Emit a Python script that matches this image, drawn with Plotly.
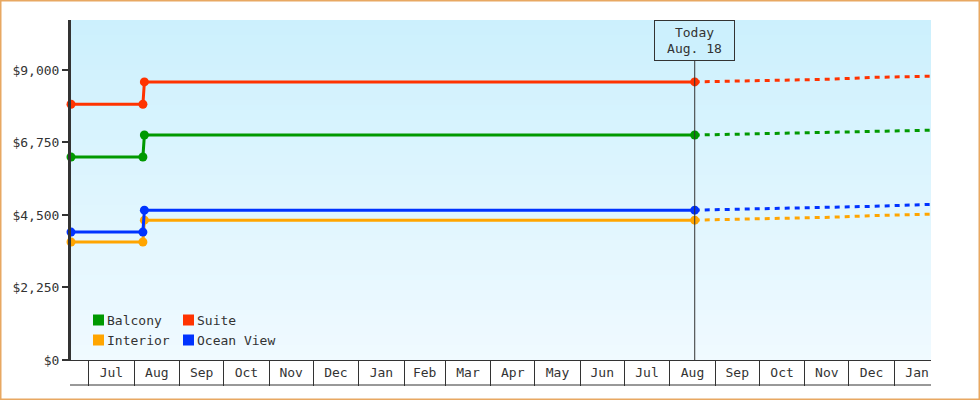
import plotly.graph_objects as go

# fare history (solid) and forecast (dotted)
hist_dates = ["2017-06-19", "2017-08-07", "2017-08-08", "2018-08-18"]
fc_dates = ["2018-08-18", "2018-09-18", "2018-10-18", "2018-11-18", "2018-12-18", "2019-01-26"]

cabins = ["Balcony", "Suite", "Interior", "Ocean View"]
colors = ["#009900", "#ff3300", "#ffa500", "#0033ff"]

balcony_hist = [6300, 6300, 6980, 6980]
suite_hist = [7935, 7935, 8630, 8630]
interior_hist = [3660, 3660, 4340, 4340]
ocean_hist = [3970, 3970, 4650, 4650]

balcony_fc = [6980, 7005, 7035, 7065, 7095, 7130]
suite_fc = [8630, 8658, 8680, 8711, 8770, 8805]
interior_fc = [4340, 4366, 4397, 4428, 4480, 4525]
ocean_fc = [4650, 4676, 4707, 4738, 4769, 4830]

y_ticks = [0, 2250, 4500, 6750, 9000]
y_labels = ["$0", "$2,250", "$4,500", "$6,750", "$9,000"]
today = "2018-08-18"
today_label = "Today<br>Aug. 18"

hist = dict(zip(cabins, [balcony_hist, suite_hist, interior_hist, ocean_hist]))
fc = dict(zip(cabins, [balcony_fc, suite_fc, interior_fc, ocean_fc]))
col = dict(zip(cabins, colors))

FONT = dict(family="DejaVu Sans Mono", size=13, color="#333333")
W, H = 980, 400
L, R, T, B = 71, 49, 20, 40
PW, PH = W - L - R, H - T - B

fig = go.Figure()
for name in ["Interior", "Ocean View", "Balcony", "Suite"]:
    fig.add_trace(go.Scatter(
        x=hist_dates, y=hist[name], mode="lines+markers", name=name,
        line=dict(color=col[name], width=3),
        marker=dict(color=col[name], size=9),
        cliponaxis=False, showlegend=False,
    ))
    fig.add_trace(go.Scatter(
        x=fc_dates, y=fc[name], mode="lines", name=name,
        line=dict(color=col[name], width=3, dash="5px,5px"),
        showlegend=False,
    ))

shapes = []
# vertical gradient background
n = 68
top, bot = (0xcc, 0xf0, 0xfd), (0xf0, 0xfa, 0xff)
for i in range(n):
    t = (i + 0.5) / n
    c = tuple(round(bot[k] + (top[k] - bot[k]) * t) for k in range(3))
    shapes.append(dict(type="rect", xref="paper", yref="paper", x0=0, x1=1,
                       y0=i / n, y1=(i + 1) / n, fillcolor="rgb(%d,%d,%d)" % c,
                       line=dict(width=0), layer="below"))

# today marker line
shapes.append(dict(type="line", xref="x", yref="paper", x0=today, x1=today,
                   y0=0, y1=1, line=dict(color="#333333", width=1)))
# bottom rule of the month cells
shapes.append(dict(type="line", xref="paper", yref="paper", x0=-1 / PW, x1=1,
                   y0=-25 / PH, y1=-25 / PH, line=dict(color="#333333", width=1)))
# outer frame
shapes.append(dict(type="rect", xref="paper", yref="paper",
                   x0=(0.75 - L) / PW, x1=(W - 0.75 - L) / PW,
                   y0=(0.75 - B) / PH, y1=(H - 0.75 - B) / PH,
                   line=dict(color="#e8a862", width=1.5)))

annotations = [dict(
    x=today, xref="x", y=1, yref="paper", yanchor="top", showarrow=False,
    text=today_label, font=FONT, bordercolor="#333333", borderwidth=1,
    borderpad=0, width=79, height=39, bgcolor="#ccf0fd",
)]

# legend, 2 x 2 grid in lower left of plot
leg_cols = [93, 183]
leg_rows = [320, 340]
for i, name in enumerate(cabins):
    cx = leg_cols[i % 2]
    cy = leg_rows[i // 2]
    shapes.append(dict(type="rect", xref="paper", yref="paper",
                       x0=(cx - L) / PW, x1=(cx + 11 - L) / PW,
                       y0=(360 - cy - 5.5) / PH, y1=(360 - cy + 5.5) / PH,
                       fillcolor=col[name], line=dict(width=0)))
    annotations.append(dict(x=(cx + 12 - L) / PW, y=(360 - cy) / PH,
                            xref="paper", yref="paper", xanchor="left",
                            yanchor="middle", showarrow=False, text=name,
                            font=FONT))

fig.update_layout(
    width=W, height=H,
    margin=dict(l=L, r=R, t=T, b=B),
    paper_bgcolor="white", plot_bgcolor="#e6f7fe",
    font=FONT,
    shapes=shapes, annotations=annotations,
    xaxis=dict(
        type="date", range=["2017-06-19", "2019-01-26"],
        tick0="2017-07-01", dtick="M1", tickformat="%b",
        ticklabelmode="period", ticks="outside", ticklen=25, tickwidth=1,
        tickcolor="#333333", showline=True, linewidth=1, linecolor="#333333",
        showgrid=False, zeroline=False, ticklabelstandoff=-25,
    ),
    yaxis=dict(
        range=[0, 10550], tickvals=y_ticks, ticktext=y_labels,
        ticks="outside", ticklen=6, tickwidth=2, tickcolor="#333333",
        showline=True, linewidth=3, linecolor="#333333",
        showgrid=False, zeroline=False,
    ),
)

fig.write_html("out.html", config={"displayModeBar": False},
               post_script="document.body.style.margin='0';")
